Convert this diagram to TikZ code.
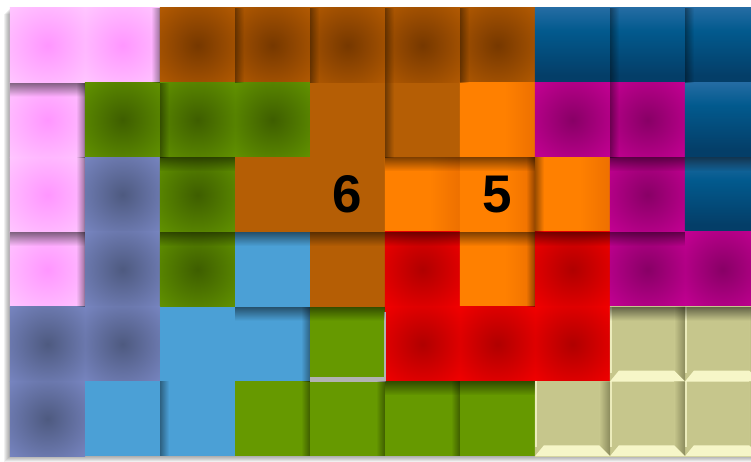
\documentclass[tikz,border=0pt]{standalone}
\usepackage{fontspec}
\setmainfont{Liberation Sans}
\usetikzlibrary{fadings}
\definecolor{pinkout}{RGB}{255,204,255}
\definecolor{pinkin}{RGB}{255,150,255}
\definecolor{brout}{RGB}{186,94,2}
\definecolor{brin}{RGB}{118,56,0}
\definecolor{brflat}{RGB}{181,94,5}
\definecolor{bltop}{RGB}{74,128,187}
\definecolor{blmid}{RGB}{2,90,142}
\definecolor{blbot}{RGB}{4,62,104}
\definecolor{grout}{RGB}{102,153,0}
\definecolor{grin}{RGB}{62,94,0}
\definecolor{grflat}{RGB}{102,153,0}
\definecolor{orl}{RGB}{255,128,0}
\definecolor{orr}{RGB}{214,92,0}
\definecolor{mgout}{RGB}{204,0,153}
\definecolor{mgin}{RGB}{136,0,102}
\definecolor{lvout}{RGB}{124,138,200}
\definecolor{lvin}{RGB}{78,90,128}
\definecolor{ltblue}{RGB}{75,160,214}
\definecolor{rdout}{RGB}{250,0,0}
\definecolor{rdin}{RGB}{176,0,0}
\definecolor{khaki}{RGB}{198,198,140}
\definecolor{khakitop}{RGB}{184,184,128}
\definecolor{khakihi}{RGB}{246,246,200}
\definecolor{khakilo}{RGB}{138,138,92}
\pgfdeclareradialshading{pinksh}{\pgfpoint{0bp}{0bp}}{color(0bp)=(pinkin); color(40bp)=(pinkout); color(100bp)=(pinkout)}
\pgfdeclareradialshading{brsh}{\pgfpoint{0bp}{0bp}}{color(0bp)=(brin); color(40bp)=(brout); color(100bp)=(brout)}
\pgfdeclareradialshading{grsh}{\pgfpoint{0bp}{0bp}}{color(0bp)=(grin); color(40bp)=(grout); color(100bp)=(grout)}
\pgfdeclareradialshading{mgsh}{\pgfpoint{0bp}{0bp}}{color(0bp)=(mgin); color(40bp)=(mgout); color(100bp)=(mgout)}
\pgfdeclareradialshading{lvsh}{\pgfpoint{0bp}{0bp}}{color(0bp)=(lvin); color(40bp)=(lvout); color(100bp)=(lvout)}
\pgfdeclareradialshading{rdsh}{\pgfpoint{0bp}{0bp}}{color(0bp)=(rdin); color(40bp)=(rdout); color(100bp)=(rdout)}
\pgfdeclareverticalshading{blsh}{100bp}{color(0bp)=(blbot); color(30bp)=(blbot); color(60bp)=(blmid); color(92bp)=(bltop); color(100bp)=(bltop)}
\pgfdeclarehorizontalshading{orsh}{100bp}{color(0bp)=(orl); color(55bp)=(orl); color(100bp)=(orr)}
\pgfdeclareverticalshading{khsh}{100bp}{color(0bp)=(khaki); color(75bp)=(khaki); color(100bp)=(khakitop)}
\tikzfading[name=fadedn, top color=transparent!50, bottom color=transparent!100]
\tikzfading[name=fadert, left color=transparent!60, right color=transparent!100]
\tikzfading[name=fadelf, left color=transparent!100, right color=transparent!60]
\tikzset{
  cell/.style={minimum width=75.3pt, minimum height=75pt, inner sep=0pt, outer sep=0pt, draw=none},
  pinkc/.style={cell, shading=pinksh},
  brownr/.style={cell, shading=brsh},
  brownf/.style={cell, fill=brflat},
  bluec/.style={cell, shading=blsh},
  greenr/.style={cell, shading=grsh},
  greenf/.style={cell, fill=grflat},
  orangec/.style={cell, shading=orsh},
  magc/.style={cell, shading=mgsh},
  lavc/.style={cell, shading=lvsh},
  lbluec/.style={cell, fill=ltblue},
  redc/.style={cell, shading=rdsh},
  khakic/.style={cell, shading=khsh},
  topshadow/.style={fill=black, path fading=fadedn},
  leftshadow/.style={fill=black, path fading=fadert},
  rightshadow/.style={fill=black, path fading=fadelf},
  num/.style={font=\bfseries\fontsize{53pt}{53pt}\selectfont, text=black, inner sep=0pt}
}
\begin{document}
\begin{tikzpicture}[x=1pt,y=-1pt]
\useasboundingbox (0,0) rectangle (751,462);
\fill[white] (0,0) rectangle (751,462);
% soft shadow of the board
\foreach \k in {1,...,6}{
  \fill[black, opacity=0.06] ({10-\k},{8+\k}) rectangle ({760},{456+\k});
}
\foreach \r/\c/\s in {
 0/0/pinkc,0/1/pinkc,0/2/brownr,0/3/brownr,0/4/brownr,0/5/brownr,0/6/brownr,0/7/bluec,0/8/bluec,0/9/bluec,
 1/0/pinkc,1/1/greenr,1/2/greenr,1/3/greenr,1/4/brownf,1/5/brownf,1/6/orangec,1/7/magc,1/8/magc,1/9/bluec,
 2/0/pinkc,2/1/lavc,2/2/greenr,2/3/brownf,2/4/brownf,2/5/orangec,2/6/orangec,2/7/orangec,2/8/magc,2/9/bluec,
 3/0/pinkc,3/1/lavc,3/2/greenr,3/3/lbluec,3/4/brownf,3/5/redc,3/6/orangec,3/7/redc,3/8/magc,3/9/magc,
 4/0/lavc,4/1/lavc,4/2/lbluec,4/3/lbluec,4/4/greenf,4/5/redc,4/6/redc,4/7/redc,4/8/khakic,4/9/khakic,
 5/0/lavc,5/1/lbluec,5/2/lbluec,5/3/greenf,5/4/greenf,5/5/greenf,5/6/greenf,5/7/khakic,5/8/khakic,5/9/khakic}
{
  \node[\s] (c\r\c) at ({47.5+75*\c},{45.35+74.7*\r}) {};
}
% bevels of the khaki cells
\foreach \n in {c48,c49,c57,c58,c59}{
  \shade[left color=khaki, right color=khakilo] ([shift={(-11pt,0pt)}]\n.north east) -- (\n.north east) -- (\n.south east) -- ([shift={(-11pt,11pt)}]\n.south east) -- cycle;
  \fill[khakihi] (\n.south west) -- (\n.south east) -- ([shift={(-11pt,11pt)}]\n.south east) -- ([shift={(9pt,11pt)}]\n.south west) -- cycle;
  \fill[khakihi, opacity=0.8] (\n.north west) rectangle ([shift={(2.5pt,9pt)}]\n.south west);
}
% gray gap under the small green cell
\fill[gray!60] ([shift={(0pt,5pt)}]c44.south west) rectangle ([shift={(1pt,0pt)}]c44.south east);
\fill[gray!60] ([shift={(-1pt,5pt)}]c44.south east) rectangle ([shift={(1pt,-5pt)}]c44.north east);
% shadows on the tops of cells
\foreach \n in {c10,c22,c25,c26,c28,c29,c30,c32,c33,c34,c35,c36,c37,c38,c43,c44,c55,c56,c48,c49}{
  \path[topshadow] (\n.north west) rectangle ([shift={(0pt,-14pt)}]\n.north east);
}
% shadows on left edges
\foreach \n in {c03,c04,c05,c06,c08,c09,c12,c15,c27,c52,c18}{
  \path[leftshadow] (\n.north west) rectangle ([shift={(9pt,0pt)}]\n.south west);
}
% shadows on right edges
\foreach \n in {c01,c10,c20,c30,c53,c54,c55,c43,c26,c36}{
  \path[rightshadow] ([shift={(-9pt,0pt)}]\n.north east) rectangle (\n.south east);
}
\node[num] (six) at (c24.center) {6};
\node[num] (five) at (c26.center) {5};
\end{tikzpicture}
\end{document}
